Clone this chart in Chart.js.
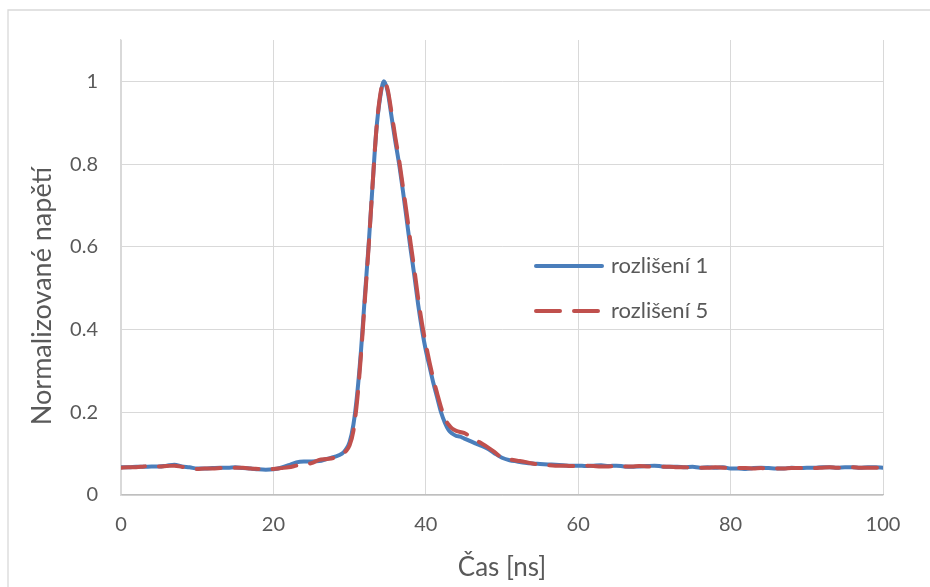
<!DOCTYPE html>
<html>
<head>
<meta charset="utf-8">
<script src="https://cdn.jsdelivr.net/npm/chart.js@4"></script>
<style>
html,body{margin:0;padding:0;background:#fff;}
#wrap{width:930px;height:587px;}
</style>
</head>
<body>
<div id="wrap"><canvas id="c" width="930" height="587"></canvas></div>
<script>
// ---- data ----
const seriesNames = ["rozlišení 1", "rozlišení 5"];
const xTitle = "Čas [ns]";
const yTitle = "Normalizované napětí";

const t1 = [0,1,2,3,4,5,6,7,8,9,10,11,12,13,14,15,16,17,18,19,20,21,22,23,24,25,26,27,28,29,29.5,30,30.5,31,31.5,32,32.5,33,33.5,34,34.5,35,35.5,36,36.5,37,37.5,38,38.5,39,39.5,40,40.5,41,41.5,42,42.5,43,43.5,44,44.5,45,46,47,48,49,50,51,52,53,54,55,56,57,58,59,60,61,62,63,64,65,66,67,68,69,70,71,72,73,74,75,76,77,78,79,80,81,82,83,84,85,86,87,88,89,90,91,92,93,94,95,96,97,98,99,100];
const v1 = [0.067,0.067,0.068,0.068,0.069,0.069,0.071,0.073,0.069,0.067,0.064,0.064,0.065,0.066,0.066,0.067,0.065,0.064,0.062,0.061,0.062,0.066,0.072,0.079,0.081,0.081,0.082,0.087,0.092,0.100,0.110,0.128,0.170,0.245,0.350,0.480,0.605,0.745,0.880,0.960,1.000,0.975,0.915,0.855,0.800,0.735,0.665,0.595,0.530,0.460,0.400,0.350,0.310,0.270,0.235,0.200,0.175,0.157,0.148,0.143,0.141,0.137,0.129,0.121,0.113,0.101,0.090,0.084,0.081,0.078,0.076,0.075,0.074,0.073,0.072,0.071,0.071,0.070,0.071,0.072,0.070,0.071,0.069,0.068,0.069,0.070,0.071,0.069,0.068,0.068,0.067,0.068,0.066,0.067,0.066,0.067,0.064,0.064,0.063,0.065,0.066,0.065,0.064,0.064,0.066,0.065,0.066,0.066,0.067,0.067,0.066,0.067,0.067,0.066,0.067,0.067,0.066];

const t5 = [0,1,2,3,4,5,6,7,8,9,10,11,12,13,14,15,16,17,18,19,20,21,22,23,24,25,26,27,28,29,29.5,30,30.5,31,31.5,32,32.5,33,33.5,34,34.5,35,35.5,36,36.5,37,37.5,38,38.5,39,39.5,40,40.5,41,41.5,42,42.5,43,43.5,44,45,46,47,48,49,50,51,52,53,54,55,56,57,58,59,60,61,62,63,64,65,66,67,68,69,70,71,72,73,74,75,76,77,78,79,80,81,82,83,84,85,86,87,88,89,90,91,92,93,94,95,96,97,98,99,100];
const v5 = [0.066,0.067,0.067,0.069,0.070,0.069,0.070,0.071,0.068,0.065,0.063,0.064,0.064,0.065,0.066,0.066,0.066,0.064,0.063,0.062,0.063,0.065,0.067,0.071,0.075,0.077,0.085,0.087,0.090,0.098,0.106,0.120,0.155,0.230,0.340,0.470,0.600,0.745,0.880,0.965,1.000,0.980,0.925,0.865,0.810,0.745,0.680,0.610,0.545,0.475,0.415,0.365,0.320,0.280,0.245,0.212,0.185,0.170,0.160,0.155,0.150,0.140,0.128,0.117,0.104,0.090,0.086,0.083,0.080,0.076,0.074,0.072,0.071,0.071,0.070,0.070,0.071,0.070,0.069,0.069,0.070,0.069,0.069,0.070,0.069,0.068,0.068,0.068,0.067,0.067,0.066,0.066,0.066,0.067,0.066,0.065,0.065,0.065,0.064,0.065,0.064,0.064,0.064,0.065,0.065,0.066,0.065,0.066,0.067,0.066,0.066,0.067,0.066,0.066,0.066,0.066,0.066];

const xTicks = [0,20,40,60,80,100];
const yTicks = [0,0.2,0.4,0.6,0.8,1];

// ---- styling ----
const BLUE = "#4A7EBB";
const RED = "#C0504D";
const TXT = "#595959";
const GRID = "#D9D9D9";
const FONT = "Lato";

const ds1 = t1.map((x,i)=>({x:x,y:v1[i]}));
const ds5 = t5.map((x,i)=>({x:x,y:v5[i]}));

const frame = {
  id:'frame',
  beforeDraw(chart){
    const c = chart.ctx;
    c.save();
    c.fillStyle = '#fff';
    c.fillRect(0,0,chart.width,chart.height);
    c.strokeStyle = GRID; c.lineWidth = 1.3;
    c.beginPath(); c.moveTo(8,chart.height); c.lineTo(8,10); c.lineTo(chart.width,10); c.stroke();
    c.restore();
  }
};

const legendPlug = {
  id:'customLegend',
  afterDraw(chart){
    const c = chart.ctx;
    c.save();
    // y axis title
    c.fillStyle = TXT; c.font = "27px " + FONT; c.textAlign = 'center'; c.textBaseline = 'middle';
    c.translate(42, 296); c.rotate(-Math.PI/2); c.fillText(yTitle, 0, 0);
    c.restore();
    c.save();
    const items = [
      {name: seriesNames[0], color: BLUE, dash: []},
      {name: seriesNames[1], color: RED, dash: [24,14]}
    ];
    const x0 = 536, x1 = 602, tx = 611;
    const ys = [266, 311];
    items.forEach((it,i)=>{
      c.strokeStyle = it.color; c.lineWidth = 4; c.lineCap = 'round';
      c.setLineDash(it.dash);
      c.beginPath(); c.moveTo(x0, ys[i]); c.lineTo(x1, ys[i]); c.stroke();
      c.setLineDash([]);
      c.fillStyle = TXT; c.font = "22px " + FONT; c.textBaseline = 'middle'; c.textAlign = 'left';
      c.fillText(it.name, tx, ys[i]);
    });
    c.restore();
  }
};

new Chart(document.getElementById('c'), {
  type: 'line',
  data: {
    datasets: [
      {label: seriesNames[1], data: ds5, borderColor: RED, backgroundColor: RED, borderWidth: 4, borderDash:[24,14], borderCapStyle:'round', pointRadius:0, cubicInterpolationMode:'monotone', order:0},
      {label: seriesNames[0], data: ds1, borderColor: BLUE, backgroundColor: BLUE, borderWidth: 4, borderCapStyle:'round', pointRadius:0, cubicInterpolationMode:'monotone', order:1}
    ]
  },
  options: {
    responsive:false, animation:false, devicePixelRatio:1,
    layout:{padding:{top:40,right:47,left:0,bottom:0}},
    plugins:{legend:{display:false}, tooltip:{enabled:false}},
    scales:{
      x:{
        type:'linear', min:0, max:100,
        afterBuildTicks(s){ s.ticks = xTicks.map(v=>({value:v})); },
        afterFit(s){ s.height = 92; },
        grid:{color:GRID, lineWidth:1, drawTicks:false},
        border:{color:'#BFBFBF', width:1.3},
        ticks:{color:TXT, font:{family:FONT, size:20}, padding:18, maxRotation:0, callback:v=>String(v)},
        title:{display:true, text:xTitle, color:TXT, font:{family:FONT, size:26}, padding:{top:0,bottom:4}}
      },
      y:{
        type:'linear', min:0, max:1.1,
        afterBuildTicks(s){ s.ticks = yTicks.map(v=>({value:v})); },
        afterFit(s){ s.width = 121; },
        grid:{color:GRID, lineWidth:1, drawTicks:false},
        border:{color:GRID, width:1.3},
        ticks:{color:TXT, font:{family:FONT, size:20}, padding:23, callback:v=>String(+v.toFixed(1))},
        title:{display:false, text:yTitle}
      }
    }
  },
  plugins:[frame, legendPlug]
});
</script>
</body>
</html>
